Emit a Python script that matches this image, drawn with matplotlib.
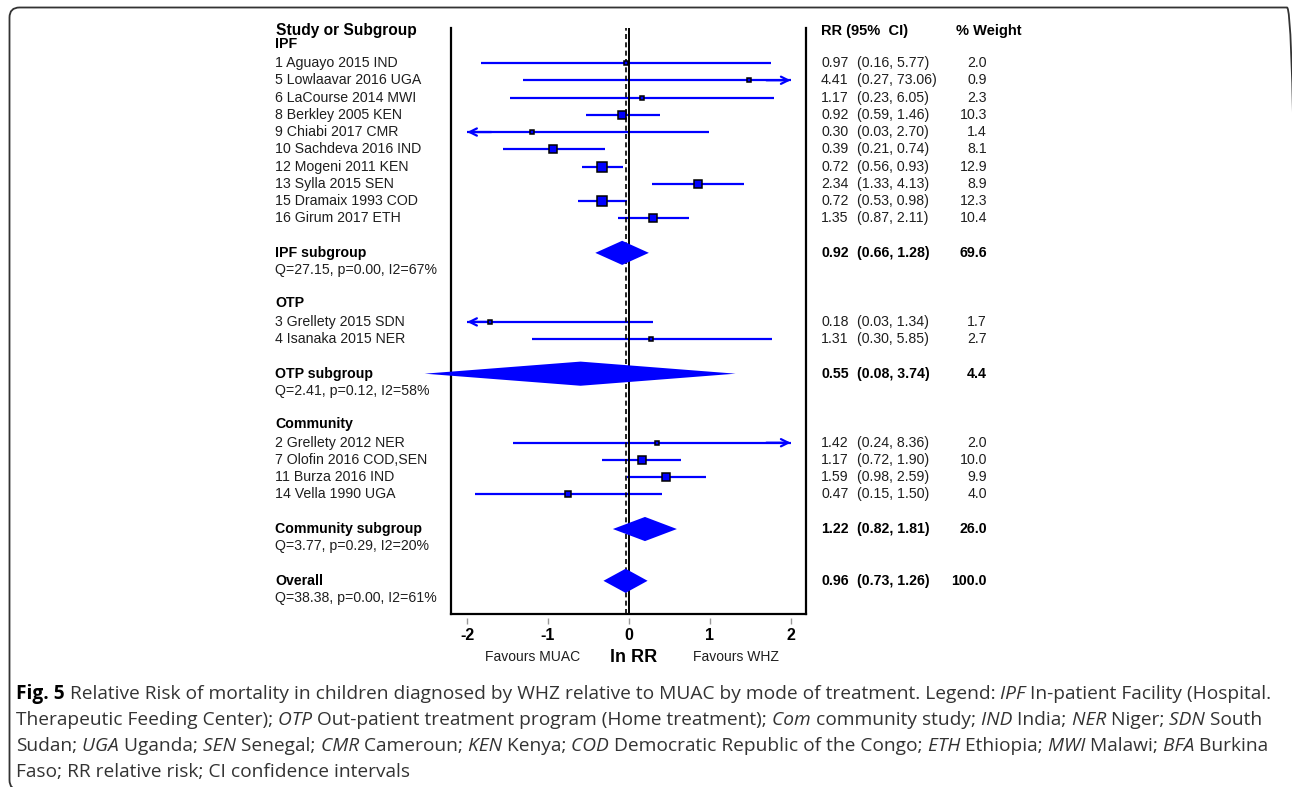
import numpy as np
import matplotlib
matplotlib.use("Agg")
import matplotlib.pyplot as plt
from matplotlib.patches import Polygon, FancyBboxPatch
import matplotlib.transforms as mtransforms
from matplotlib import font_manager

# ---------------- data ----------------
studies = ["1 Aguayo 2015 IND", "5 Lowlaavar 2016 UGA", "6 LaCourse 2014 MWI",
           "8 Berkley 2005 KEN", "9 Chiabi 2017 CMR", "10 Sachdeva 2016 IND",
           "12 Mogeni 2011 KEN", "13 Sylla 2015 SEN", "15 Dramaix 1993 COD",
           "16 Girum 2017 ETH", "3 Grellety 2015 SDN", "4 Isanaka 2015 NER",
           "2 Grellety 2012 NER", "7 Olofin 2016 COD,SEN", "11 Burza 2016 IND",
           "14 Vella 1990 UGA"]
study_group = ["IPF"] * 10 + ["OTP"] * 2 + ["Community"] * 4
rr = [0.97, 4.41, 1.17, 0.92, 0.30, 0.39, 0.72, 2.34, 0.72, 1.35, 0.18, 1.31, 1.42, 1.17, 1.59, 0.47]
rr_lo = [0.16, 0.27, 0.23, 0.59, 0.03, 0.21, 0.56, 1.33, 0.53, 0.87, 0.03, 0.30, 0.24, 0.72, 0.98, 0.15]
rr_hi = [5.77, 73.06, 6.05, 1.46, 2.70, 0.74, 0.93, 4.13, 0.98, 2.11, 1.34, 5.85, 8.36, 1.90, 2.59, 1.50]
weight = [2.0, 0.9, 2.3, 10.3, 1.4, 8.1, 12.9, 8.9, 12.3, 10.4, 1.7, 2.7, 2.0, 10.0, 9.9, 4.0]

groups = ["IPF", "OTP", "Community"]
sub_names = ["IPF subgroup", "OTP subgroup", "Community subgroup", "Overall"]
sub_rr = [0.92, 0.55, 1.22, 0.96]
sub_lo = [0.66, 0.08, 0.82, 0.73]
sub_hi = [1.28, 3.74, 1.81, 1.26]
sub_w = [69.6, 4.4, 26.0, 100.0]
sub_het = ["Q=27.15, p=0.00, I2=67%", "Q=2.41, p=0.12, I2=58%",
           "Q=3.77, p=0.29, I2=20%", "Q=38.38, p=0.00, I2=61%"]

xticks = [-2, -1, 0, 1, 2]
xtick_labels = ["-2", "-1", "0", "1", "2"]

caption_lines = [
    [("Fig. 5", "bold"), (" Relative Risk of mortality in children diagnosed by WHZ relative to MUAC by mode of treatment. Legend:", "normal"),
     (" IPF", "italic"), (" In-patient Facility (Hospital.", "normal")],
    [("Therapeutic Feeding Center);", "normal"), (" OTP", "italic"), (" Out-patient treatment program (Home treatment);", "normal"),
     (" Com", "italic"), (" community study;", "normal"), (" IND", "italic"), (" India;", "normal"),
     (" NER", "italic"), (" Niger;", "normal"), (" SDN", "italic"), (" South", "normal")],
    [("Sudan;", "normal"), (" UGA", "italic"), (" Uganda;", "normal"), (" SEN", "italic"), (" Senegal;", "normal"),
     (" CMR", "italic"), (" Cameroun;", "normal"), (" KEN", "italic"), (" Kenya;", "normal"),
     (" COD", "italic"), (" Democratic Republic of the Congo;", "normal"), (" ETH", "italic"), (" Ethiopia;", "normal"),
     (" MWI", "italic"), (" Malawi;", "normal"), (" BFA", "italic"), (" Burkina", "normal")],
    [("Faso; RR relative risk; CI confidence intervals", "normal")],
]

# ---------------- figure ----------------
W, H = 1292, 787
plt.rcParams["font.family"] = ["Liberation Sans", "DejaVu Sans"]
fig = plt.figure(figsize=(W / 100, H / 100), dpi=100)
fig.patch.set_facecolor("white")


def fx(px):
    return px / W


def fy(py):
    return 1 - py / H


ROW0, ROWH = 63.0, 17.26
ax = fig.add_axes([fx(451), fy(614), fx(806) - fx(451), fy(28) - fy(614)])
ax.set_xlim(-2.2, 2.19)
ax.set_ylim((614 - ROW0) / ROWH, (28 - ROW0) / ROWH)

# row layout
r = -1
header_rows, study_rows, sub_rows = [], [], []
for g in groups:
    header_rows.append(r)
    r += 1
    for gname in study_group:
        if gname == g:
            study_rows.append(r)
            r += 1
    r += 1
    sub_rows.append(r)
    r += 3
sub_rows.append(r)

BLUE = "#0000ff"
XMIN_ARR, XMAX_ARR = -2.0, 2.0

# reference lines
ax.axvline(0, color="black", lw=1.4, zorder=3)
ax.axvline(np.log(sub_rr[-1]), color="black", lw=1.2, ls=(0, (3, 2)), zorder=3)

# studies
for i in range(len(studies)):
    y = study_rows[i]
    est = np.log(rr[i])
    lo = np.log(rr_lo[i])
    hi = np.log(rr_hi[i])
    lo_c = max(lo, XMIN_ARR)
    hi_c = min(hi, XMAX_ARR)
    ax.plot([lo_c, hi_c], [y, y], color=BLUE, lw=1.6, zorder=2, solid_capstyle="butt")
    if lo < XMIN_ARR:
        ax.annotate("", xy=(XMIN_ARR, y), xytext=(XMIN_ARR + 0.3, y),
                    arrowprops=dict(arrowstyle="->", color=BLUE, lw=1.6, mutation_scale=13,
                                    shrinkA=0, shrinkB=0), zorder=2)
    if hi > XMAX_ARR:
        ax.annotate("", xy=(XMAX_ARR, y), xytext=(XMAX_ARR - 0.3, y),
                    arrowprops=dict(arrowstyle="->", color=BLUE, lw=1.6, mutation_scale=13,
                                    shrinkA=0, shrinkB=0), zorder=2)
    side_px = 3.6 + 0.44 * weight[i]
    ax.plot([est], [y], marker="s", ms=side_px * 0.72, mfc=BLUE, mec="black", mew=1.1,
            zorder=4, ls="none")

# diamonds
for j in range(len(sub_names)):
    y = sub_rows[j]
    est = np.log(sub_rr[j])
    lo = np.log(sub_lo[j])
    hi = np.log(sub_hi[j])
    hh = 0.7
    poly = Polygon([[lo, y], [est, y - hh], [hi, y], [est, y + hh]], closed=True,
                   facecolor=BLUE, edgecolor="none", zorder=5, clip_on=False)
    ax.add_patch(poly)

# spines / ticks
for s in ["top", "bottom"]:
    ax.spines[s].set_visible(False)
for s in ["left", "right"]:
    ax.spines[s].set_linewidth(1.6)
    ax.spines[s].set_color("black")
ax.plot([0, 1], [0, 0], transform=ax.transAxes, color="black", lw=1.6,
        clip_on=False, zorder=6, solid_capstyle="projecting")
ax.spines["bottom"].set_visible(True)
ax.spines["bottom"].set_color("none")
ax.spines["bottom"].set_position(("outward", 3))
ax.set_yticks([])
ax.set_xticks(xticks)
ax.set_xticklabels(xtick_labels, fontsize=11.5, fontweight="bold")
ax.tick_params(axis="x", direction="out", length=4, width=1.0, color="#999999",
               pad=3, labelcolor="black")
ax.patch.set_alpha(0)

# ---------------- text columns ----------------
trans = mtransforms.blended_transform_factory(fig.transFigure, ax.transData)
TXT = "#1e1e1e"
FS = 10.2
X_LAB, X_RR, X_CI, X_W = 275, 821, 857, 987

head_row = (31 - ROW0) / ROWH
fig.text(fx(276), head_row, "Study or Subgroup", transform=trans, fontsize=11.2, fontweight="bold",
         va="center", ha="left", color="black")
fig.text(fx(X_RR), head_row, "RR (95%  CI)", transform=trans, fontsize=10.5, fontweight="bold",
         va="center", ha="left", color="black")
fig.text(fx(956), head_row, "% Weight", transform=trans, fontsize=10.5, fontweight="bold",
         va="center", ha="left", color="black")


def row_text(px, row, s, **kw):
    return fig.text(fx(px), row, s, transform=trans, va="center", **kw)


for g, hr in zip(groups, header_rows):
    row_text(X_LAB, hr - 0.08, g, fontsize=FS, fontweight="bold", color="black")

for i in range(len(studies)):
    y = study_rows[i]
    row_text(X_LAB, y, studies[i], fontsize=FS, color=TXT)
    row_text(X_RR, y, f"{rr[i]:.2f}", fontsize=FS, color=TXT)
    row_text(X_CI, y, f"({rr_lo[i]:.2f}, {rr_hi[i]:.2f})", fontsize=FS, color=TXT)
    row_text(X_W, y, f"{weight[i]:.1f}", fontsize=FS, color=TXT, ha="right")

for j in range(len(sub_names)):
    y = sub_rows[j]
    row_text(X_LAB, y, sub_names[j], fontsize=FS, fontweight="bold", color="black")
    row_text(X_LAB, y + 1, sub_het[j], fontsize=FS, color=TXT)
    row_text(X_RR, y, f"{sub_rr[j]:.2f}", fontsize=FS, fontweight="bold", color="black")
    row_text(X_CI, y, f"({sub_lo[j]:.2f}, {sub_hi[j]:.2f})", fontsize=FS, fontweight="bold", color="black")
    row_text(X_W, y, f"{sub_w[j]:.1f}", fontsize=FS, fontweight="bold", color="black", ha="right")

# x-axis captions
fig.text(fx(533), fy(657), "Favours MUAC", ha="center", va="center", fontsize=10, color=TXT)
fig.text(fx(634), fy(657), "ln RR", ha="center", va="center", fontsize=13, fontweight="bold", color="black")
fig.text(fx(736), fy(657), "Favours WHZ", ha="center", va="center", fontsize=10, color=TXT)

# ---------------- caption ----------------
def pick_font(cands):
    for c in cands:
        try:
            font_manager.findfont(font_manager.FontProperties(family=c), fallback_to_default=False)
            return c
        except Exception:
            continue
    return "DejaVu Sans"


cap_font = pick_font(["Liberation Sans Narrow", "Open Sans", "Liberation Sans"])
renderer = fig.canvas.get_renderer()


def seg_props(style):
    if style == "bold":
        return dict(fontweight="bold", color="black")
    if style == "italic":
        return dict(fontstyle="italic", color="#333333")
    return dict(color="#333333")


def line_width(segs, size):
    total = 0
    for s, st in segs:
        t = fig.text(0, 0, s, fontsize=size, family=cap_font, **seg_props(st))
        total += t.get_window_extent(renderer).width
        t.remove()
    return total


target = 1263 - 16
size0 = 12.0
cap_size = size0 * target / line_width(caption_lines[0], size0)

baselines = [699, 725, 751, 777]
for segs, base in zip(caption_lines, baselines):
    xpx = 16
    for s, st in segs:
        t = fig.text(fx(xpx), fy(base), s, fontsize=cap_size, family=cap_font,
                     va="baseline", ha="left", **seg_props(st))
        xpx = t.get_window_extent(renderer).x1

# border (right and bottom edges fall just outside the image, as in the reference)
border = FancyBboxPatch((9.5, -3.0), 1297 - 9.5, 779.5 + 3.0,
                        boxstyle="round,pad=0,rounding_size=10",
                        transform=mtransforms.IdentityTransform(),
                        facecolor="none", edgecolor="#333333", lw=1.3)
fig.patches.append(border)

fig.savefig("out.png", dpi=100, facecolor="white")
